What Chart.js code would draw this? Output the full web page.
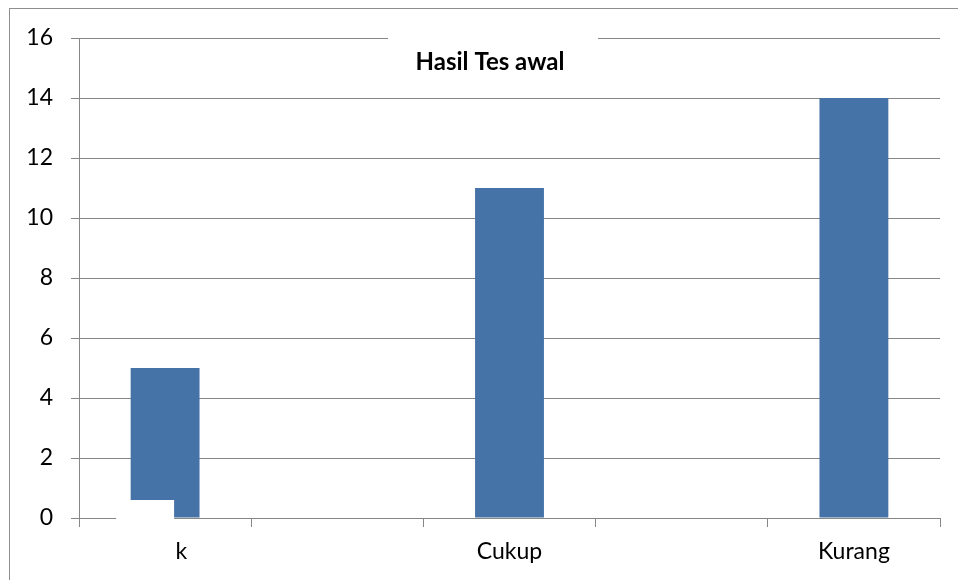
<!DOCTYPE html>
<html>
<head>
<meta charset="utf-8">
<script src="https://cdn.jsdelivr.net/npm/chart.js@4/dist/chart.umd.min.js"></script>
<style>
  html, body { margin: 0; padding: 0; background: #ffffff; }
  #wrap { width: 958px; height: 580px; }
</style>
</head>
<body>
<div id="wrap"><canvas id="c" width="958" height="580"></canvas></div>
<script>
// Test result categories (empty slots keep the wide spacing between groups)
const categories = ["k", "", "Cukup", "", "Kurang"];
const counts = [5, null, 11, null, 14];
const yTicks = [0, 2, 4, 6, 8, 10, 12, 14, 16];
const chartTitle = "Hasil Tes awal";

const GRID = "#868686";
const BAR = "#4572a7";
const FONT = "Lato, 'Open Sans', sans-serif";

// Frame, title box and the blank patch over the lower-left corner of the first bar
const decorations = {
  id: "decorations",
  beforeDraw(chart) {
    const ctx = chart.ctx;
    ctx.save();
    ctx.fillStyle = "#ffffff";
    ctx.fillRect(0, 0, chart.width, chart.height);
    ctx.strokeStyle = "#8e8e8e";
    ctx.lineWidth = 1;
    ctx.strokeRect(9.5, 8.5, 1200, 1200);
    ctx.restore();
  },
  afterDatasetsDraw(chart) {
    const ctx = chart.ctx;
    const x = chart.scales.x;
    const y = chart.scales.y;
    ctx.save();
    ctx.fillStyle = "#ffffff";
    // patch
    const left = x.getPixelForValue(0) - 49;
    const top = y.getPixelForValue(0.6);
    ctx.fillRect(left, top, 58, y.getPixelForValue(0) + 4 - top);
    // title box
    ctx.fillRect(388, 28, 210, 40);
    ctx.fillStyle = "#000000";
    ctx.font = "bold 24px " + FONT;
    ctx.textAlign = "center";
    ctx.textBaseline = "alphabetic";
    ctx.fillText(chartTitle, 490, 70);
    ctx.restore();
  }
};

new Chart(document.getElementById("c"), {
  type: "bar",
  data: {
    labels: categories,
    datasets: [{
      data: counts,
      backgroundColor: BAR,
      borderWidth: 0,
      barPercentage: 0.4,
      categoryPercentage: 1.0
    }]
  },
  options: {
    responsive: false,
    animation: false,
    layout: { padding: { left: 0, right: 18, top: 38, bottom: 0 } },
    plugins: {
      legend: { display: false },
      title: { display: false },
      tooltip: { enabled: false }
    },
    scales: {
      x: {
        afterFit(scale) { scale.height = 62; },
        grid: {
          offset: true,
          drawOnChartArea: false,
          drawTicks: true,
          tickLength: 9,
          color: GRID
        },
        border: { display: true, color: GRID },
        ticks: {
          color: "#000000",
          font: { family: FONT, size: 23 },
          padding: 11,
          maxRotation: 0,
          autoSkip: false,
          callback(value, index) {
            const label = categories[index];
            return index === 0 ? "\u2007\u2007 " + label : label;
          }
        }
      },
      y: {
        min: 0,
        max: 16,
        afterFit(scale) { scale.width = 79; },
        afterBuildTicks(scale) { scale.ticks = yTicks.map(v => ({ value: v })); },
        grid: {
          color: GRID,
          tickLength: 8,
          drawTicks: true
        },
        border: { display: true, color: GRID },
        ticks: {
          color: "#000000",
          font: { family: FONT, size: 23 },
          padding: 18
        }
      }
    }
  },
  plugins: [decorations]
});
</script>
</body>
</html>
